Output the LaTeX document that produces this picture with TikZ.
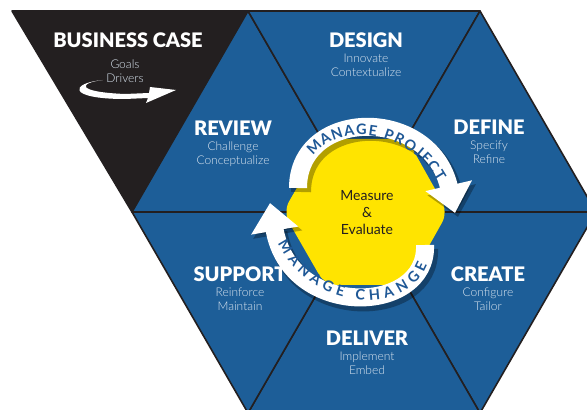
\documentclass[tikz,border=0pt]{standalone}
\usepackage{fontspec}
\setmainfont{Lato}
\newfontfamily\lightfont{Lato Light}
\newfontfamily\heavyfont{Lato Black}
\usetikzlibrary{arrows.meta,decorations.text}
\definecolor{hexblue}{RGB}{29,94,152}
\definecolor{casegray}{RGB}{35,31,32}
\definecolor{subwhite}{RGB}{218,229,240}
\definecolor{evalyellow}{RGB}{255,228,0}
\definecolor{bandblue}{RGB}{31,88,150}
\newcommand\bandfont{\bfseries\fontsize{14.5}{14.5}\selectfont}
\begin{document}
\begin{tikzpicture}[x=1pt,y=1pt,
    cell/.style={fill=hexblue,draw=casegray,line width=1.6pt,line join=round},
    ttl/.style={anchor=base,inner sep=0pt,text=white,font=\heavyfont\fontsize{20}{20}\selectfont},
    sub/.style={anchor=north,inner sep=0pt,align=center,text=subwhite,font=\lightfont\fontsize{12}{14}\selectfont},
    band/.style={white,line width=18pt,-{Triangle[length=28pt,width=46pt]}},
    bandshadow/.style={black,opacity=0.3,line width=20pt,-{Triangle[length=28pt,width=48pt]}}]
  \useasboundingbox (0,0) rectangle (587,410);
  \clip (0,0) rectangle (587,410);

  % corners of the hexagon
  \coordinate (fl) at (12,399);
  \coordinate (tl) at (248,399);
  \coordinate (tr) at (480,399);
  \coordinate (r) at (596,198);
  \coordinate (br) at (480,-3);
  \coordinate (bl) at (248,-3);
  \coordinate (l) at (132,198);
  \coordinate (o) at (364,198);

  \filldraw[cell,fill=casegray] (fl) -- (tl) -- (l) -- cycle;
  \filldraw[cell] (l) -- (tl) -- (o) -- cycle;
  \filldraw[cell] (tl) -- (tr) -- (o) -- cycle;
  \filldraw[cell] (o) -- (tr) -- (r) -- cycle;
  \filldraw[cell] (o) -- (r) -- (br) -- cycle;
  \filldraw[cell] (o) -- (br) -- (bl) -- cycle;
  \filldraw[cell] (o) -- (bl) -- (l) -- cycle;

  % swoosh under the business case
  \fill[white] (103,330) .. controls (70,327) and (66,311) .. (125,311) -- (148,312) -- (146,307) -- (176,320)
    -- (150,323) -- (149,317) -- (125,316) .. controls (76,318) and (78,327) .. (103,330) -- cycle;

  % yellow middle
  \fill[evalyellow,rounded corners=12pt] (448,198) -- (407,271) -- (325,271) -- (283,198) -- (325,125) -- (407,125) -- cycle;

  % the two bands
  \coordinate (pj1) at (298,222);
  \coordinate (pj2) at (455,197);
  \coordinate (cg1) at (425,165);
  \coordinate (cg2) at (270,207);
  \draw[bandshadow,transform canvas={shift={(3pt,-4pt)}}] (pj1) .. controls (298,302) and (430,305) .. (pj2);
  \draw[bandshadow,transform canvas={shift={(3pt,-4pt)}}] (cg1) .. controls (428,95) and (290,90) .. (cg2);
  \draw[band] (pj1) .. controls (298,302) and (430,305) .. (pj2);
  \draw[band] (cg1) .. controls (428,95) and (290,90) .. (cg2);
  \path[decorate,decoration={text along path,text={|\bandfont|MANAGE PROJECT},text color=bandblue,
    text align={left indent=38pt,right indent=36pt,fit to path},raise=-5.2pt}]
    (pj1) .. controls (298,302) and (430,305) .. (pj2);
  \path[decorate,decoration={text along path,text={|\bandfont|MANAGE CHANGE},text color=bandblue,
    text align={left indent=40pt,right indent=18pt,fit to path},raise=-5.2pt}]
    (cg2) .. controls (290,90) and (428,95) .. (cg1);

  \node[align=center,text=casegray,font=\fontsize{14}{17}\selectfont] (measure) at (367,197) {Measure\\\&\\Evaluate};

  % labels
  \node[ttl] (business) at (128,362) {BUSINESS CASE};
  \node[sub] (businesssub) at (125,350.5) {Goals\\Drivers};
  \node[ttl] (review) at (233,274) {REVIEW};
  \node[sub] (reviewsub) at (233,268.5) {Challenge\\Conceptualize};
  \node[ttl] (design) at (366,362) {DESIGN};
  \node[sub] (designsub) at (366,356.5) {Innovate\\Contextualize};
  \node[ttl] (define) at (489,275) {DEFINE};
  \node[sub] (definesub) at (489,269.5) {Specify\\Refine};
  \node[ttl] (support) at (240,128) {SUPPORT};
  \node[sub] (supportsub) at (240,122.5) {Reinforce\\Maintain};
  \node[ttl] (create) at (488,128) {CREATE};
  \node[sub] (createsub) at (488,122.5) {Configure\\Tailor};
  \node[ttl] (deliver) at (367,64) {DELIVER};
  \node[sub] (deliversub) at (367,58.5) {Implement\\Embed};
\end{tikzpicture}
\end{document}
